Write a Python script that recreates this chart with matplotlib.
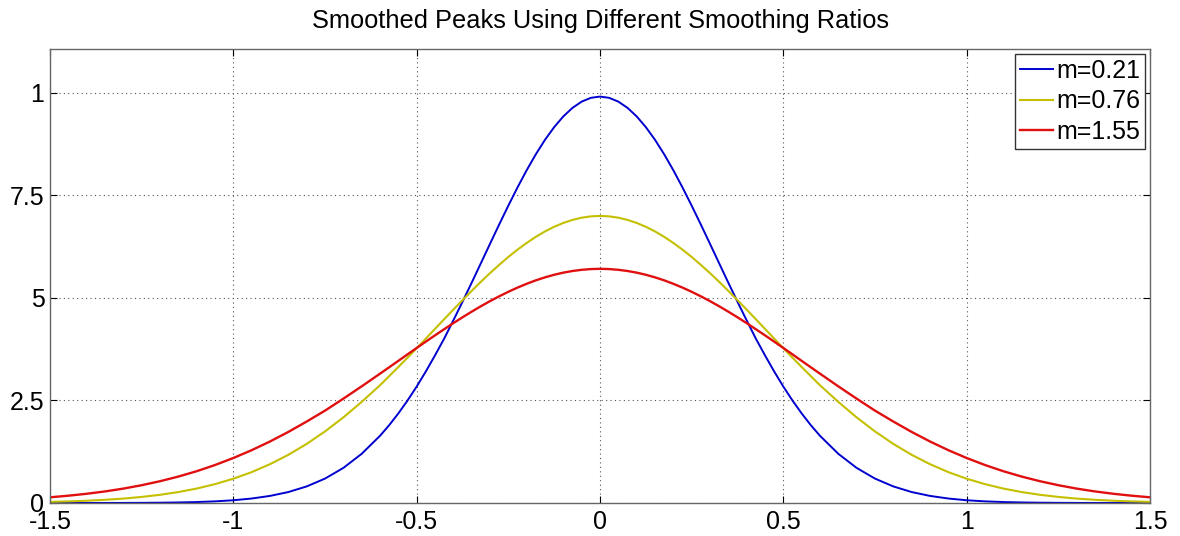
import matplotlib
matplotlib.use("Agg")
import matplotlib.pyplot as plt

x = [-1.500, -1.450, -1.400, -1.350, -1.300, -1.250, -1.200, -1.150, -1.100, -1.050,
     -1.000, -0.950, -0.900, -0.850, -0.800, -0.750, -0.700, -0.650, -0.600,
     -0.575, -0.550, -0.525, -0.500, -0.475, -0.450, -0.425, -0.400, -0.375, -0.350,
     -0.325, -0.300, -0.275, -0.250, -0.225, -0.200, -0.175, -0.150, -0.125, -0.100,
     -0.075, -0.050, -0.025,
     0.000,
     0.025, 0.050, 0.075, 0.100, 0.125, 0.150, 0.175, 0.200, 0.225, 0.250,
     0.275, 0.300, 0.325, 0.350, 0.375, 0.400, 0.425, 0.450, 0.475, 0.500,
     0.525, 0.550, 0.575,
     0.600, 0.650, 0.700, 0.750, 0.800, 0.850, 0.900, 0.950, 1.000,
     1.050, 1.100, 1.150, 1.200, 1.250, 1.300, 1.350, 1.400, 1.450, 1.500]

y_m021 = [0.0001, 0.0003, 0.0006, 0.0011, 0.0021, 0.0040, 0.0074, 0.0133, 0.0234, 0.0400,
          0.0668, 0.109, 0.173, 0.267, 0.404, 0.595, 0.855, 1.199, 1.638,
          1.897, 2.184, 2.498, 2.839, 3.207, 3.600, 4.008, 4.453, 4.906, 5.371,
          5.844, 6.319, 6.790, 7.250, 7.694, 8.114, 8.503, 8.856, 9.165, 9.427,
          9.635, 9.787, 9.879,
          9.910,
          9.879, 9.787, 9.635, 9.427, 9.165, 8.856, 8.503, 8.114, 7.694, 7.250,
          6.790, 6.319, 5.844, 5.371, 4.906, 4.453, 4.008, 3.600, 3.207, 2.839,
          2.498, 2.184, 1.897,
          1.638, 1.199, 0.855, 0.595, 0.404, 0.267, 0.173, 0.109, 0.0668,
          0.0400, 0.0234, 0.0133, 0.0074, 0.0040, 0.0021, 0.0011, 0.0006, 0.0003, 0.0001]

y_m076 = [0.027, 0.039, 0.055, 0.078, 0.108, 0.148, 0.200, 0.267, 0.352, 0.460,
          0.592, 0.753, 0.947, 1.175, 1.441, 1.745, 2.087, 2.465, 2.871,
          3.093, 3.316, 3.543, 3.775, 4.009, 4.245, 4.481, 4.715, 4.946, 5.172,
          5.393, 5.605, 5.807, 5.999, 6.177, 6.341, 6.490, 6.622, 6.735, 6.829,
          6.903, 6.957, 6.989,
          7.000,
          6.989, 6.957, 6.903, 6.829, 6.735, 6.622, 6.490, 6.341, 6.177, 5.999,
          5.807, 5.605, 5.393, 5.172, 4.946, 4.715, 4.481, 4.245, 4.009, 3.775,
          3.543, 3.316, 3.093,
          2.871, 2.465, 2.087, 1.745, 1.441, 1.175, 0.947, 0.753, 0.592,
          0.460, 0.352, 0.267, 0.200, 0.148, 0.108, 0.078, 0.055, 0.039, 0.027]

y_m155 = [0.139, 0.178, 0.225, 0.282, 0.351, 0.434, 0.531, 0.644, 0.775, 0.926,
          1.097, 1.288, 1.500, 1.733, 1.986, 2.252, 2.544, 2.844, 3.153,
          3.309, 3.466, 3.624, 3.780, 3.935, 4.088, 4.238, 4.385, 4.528, 4.665,
          4.797, 4.922, 5.040, 5.150, 5.252, 5.345, 5.429, 5.502, 5.565, 5.617,
          5.657, 5.686, 5.704,
          5.710,
          5.704, 5.686, 5.657, 5.617, 5.565, 5.502, 5.429, 5.345, 5.252, 5.150,
          5.040, 4.922, 4.797, 4.665, 4.528, 4.385, 4.238, 4.088, 3.935, 3.780,
          3.624, 3.466, 3.309,
          3.153, 2.844, 2.544, 2.252, 1.986, 1.733, 1.500, 1.288, 1.097,
          0.926, 0.775, 0.644, 0.531, 0.434, 0.351, 0.282, 0.225, 0.178, 0.139]

series_labels = ["m=0.21", "m=0.76", "m=1.55"]
x_ticks = [-1.5, -1.0, -0.5, 0.0, 0.5, 1.0, 1.5]
x_ticklabels = ["-1.5", "-1", "-0.5", "0", "0.5", "1", "1.5"]
y_ticks = [0, 2.5, 5, 7.5, 10]
y_ticklabels = ["0", "2.5", "5", "7.5", "1"]
title = "Smoothed Peaks Using Different Smoothing Ratios"

plt.rcParams['font.family'] = ['Liberation Sans', 'DejaVu Sans']

fig = plt.figure(figsize=(11.8, 5.36), dpi=100)
ax = fig.add_axes([50/1180, 33/536, 1100/1180, 454/536])

ax.plot(x, y_m021, color='#0000d0', lw=1.4, label=series_labels[0])
ax.plot(x, y_m076, color='#c4c000', lw=1.5, label=series_labels[1])
ax.plot(x, y_m155, color='#e01010', lw=1.7, label=series_labels[2])

ax.set_xlim(-1.5, 1.5)
ax.set_ylim(0, 11.07)
ax.set_xticks(x_ticks)
ax.set_xticklabels(x_ticklabels)
ax.set_yticks(y_ticks)
ax.set_yticklabels(y_ticklabels)
ax.tick_params(direction='in', length=5, width=0.8, top=True, right=True,
               labelsize=18, colors='black')
ax.tick_params(axis='x', pad=5)
ax.tick_params(axis='y', pad=4)
ax.grid(True, linestyle=(0, (1, 3)), color='#555555', lw=0.8)
for s in ax.spines.values():
    s.set_color('#666666')
    s.set_linewidth(1.0)

fig.text(600/1180, 1 - 21/536, title, ha='center', va='center', fontsize=18.3)

leg = ax.legend(loc='upper right', fontsize=18, handlelength=1.32,
                handletextpad=0.12, labelspacing=0.25, borderpad=0.2,
                borderaxespad=0.2, fancybox=False, framealpha=1)
leg.get_frame().set_edgecolor('#333333')
leg.get_frame().set_linewidth(1.0)

fig.savefig("out.png", dpi=100)
